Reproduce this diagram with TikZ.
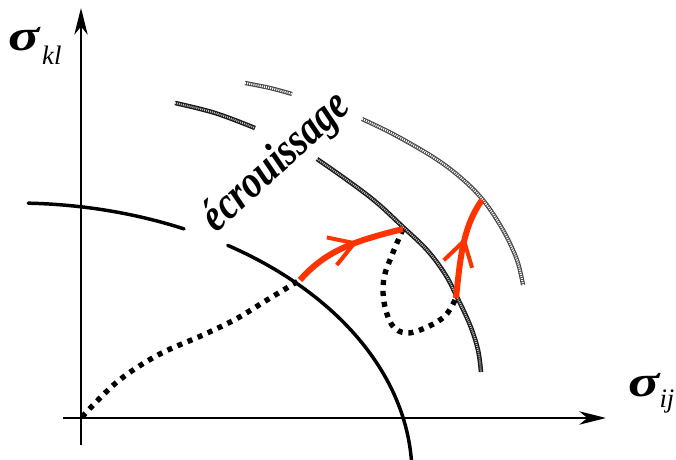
\documentclass[tikz,border=0pt]{standalone}
\usepackage{fontspec}
\setmainfont{Liberation Serif}
\usetikzlibrary{arrows.meta,decorations.markings}
\definecolor{redarrow}{RGB}{255,51,0}
\newcommand{\bigsig}{\scalebox{1.45}[1.1]{\fontsize{30}{30}\selectfont\bfseries\itshape σ}}
\tikzset{
  axis/.style={line width=1.5pt, -{Stealth[length=20pt,width=10pt,inset=6pt]}},
  yieldA/.style={line width=2.6pt, line cap=round},
  hatchdark/.style={preaction={draw=black!90, line width=3.4pt}, draw=white!55!gray, line width=1.4pt, dash pattern=on 0.7pt off 0.8pt},
  hatchlight/.style={preaction={draw=black!72, line width=3.2pt}, draw=white, line width=1.5pt, dash pattern=on 0.8pt off 0.8pt},
  dotpath/.style={line width=4pt, dash pattern=on 3.8pt off 4.4pt},
  redpath/.style={draw=redarrow, line width=4.5pt},
  redbarb/.style={postaction={decorate, decoration={markings,
     mark=at position #1 with {\arrow[redarrow]{Straight Barb[length=18pt,width=22pt,line width=3pt]}}}}},
  biglabel/.style={inner sep=0pt, anchor=base west},
}
\begin{document}
\begin{tikzpicture}[x=0.75pt,y=-0.75pt]
\useasboundingbox (0,0) rectangle (676,460);

% axes
\coordinate (o1) at (81,445);
\coordinate (ytip) at (81,8);
\coordinate (o2) at (63,418);
\coordinate (xtip) at (606,418);
\draw[axis] (o1) -- (ytip);
\draw[axis] (o2) -- (xtip);

% labels
\node[biglabel] (skl) at (8,51) {\bigsig\hspace{2pt}\fontsize{20}{20}\selectfont\itshape\raisebox{-0.5em}{kl}};
\node[biglabel] (sij) at (628,396) {\bigsig\fontsize{20}{20}\selectfont\itshape\raisebox{-0.45em}{ij}};

% initial yield surface
\draw[yieldA] plot[domain=88.1:64.8, samples=40] ({15+397*cos(\x)}, {475-272*sin(\x)});
\draw[yieldA] plot[domain=57.6:2, samples=60] ({15+397*cos(\x)}, {475-272*sin(\x)});

% second surface
\draw[hatchdark] plot[smooth, tension=0.6] coordinates {(175,103) (215,113) (255,128)};
\draw[hatchdark] plot[smooth, tension=0.6] coordinates {(317,159) (347,180) (376,202) (403,227) (427,250) (445,274) (457,297) (470,325) (478,350) (481,372)};

% third surface
\draw[hatchlight] plot[smooth, tension=0.6] coordinates {(245,83) (270,88) (292,94)};
\draw[hatchlight] plot[smooth, tension=0.6] coordinates {(362,119) (393,134) (433,157) (460,177) (483,200) (503,230) (517,260) (523,285)};

% text
\node[rotate=42.5, inner sep=0pt] (ecr) at (277,163) {\scalebox{0.95}[1.15]{\fontsize{30}{32}\selectfont\bfseries\itshape écrouissage}};

% points
\coordinate (O) at (82,417);
\coordinate (A) at (300,280);
\coordinate (B) at (403,229);
\coordinate (C) at (456,298);
\coordinate (D) at (482,200);

% dotted loading paths
\draw[dotpath] plot[smooth, tension=0.6] coordinates {(O) (117,382) (158,355) (203,335) (236,319) (267,300) (A)};
\draw[dotpath] plot[smooth, tension=0.6] coordinates {(B) (392,255) (384,278) (384,302) (392,325) (406,333) (425,328) (445,316) (C)};

% red arrows
\draw[redpath, redbarb=0.6] (A) .. controls (325,252) and (350,242) .. (B);
\draw[redpath, redbarb=0.6] (C) .. controls (460,262) and (462,228) .. (D);
\end{tikzpicture}
\end{document}
